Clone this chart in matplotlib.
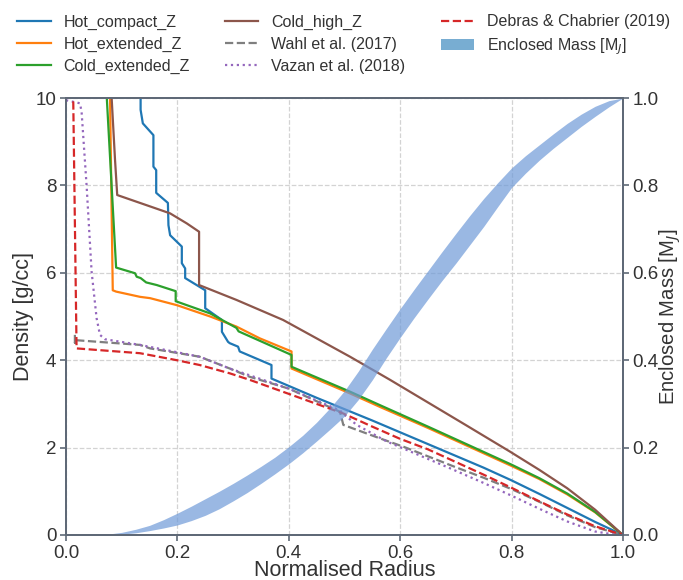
import numpy as np
import matplotlib
matplotlib.use('Agg')
import matplotlib.pyplot as plt
from matplotlib.patches import Patch

# density profiles
hot_compact_r = [0.134, 0.134, 0.138, 0.157, 0.157, 0.162, 0.162, 0.183, 0.184, 0.187, 0.208, 0.208, 0.214, 0.214,
                 0.25, 0.25, 0.28, 0.28, 0.291, 0.294, 0.309, 0.312, 0.369, 0.369, 0.45, 0.55, 0.65, 0.75, 0.8,
                 0.85, 0.9, 0.95, 1.0]
hot_compact_rho = [11.0, 9.73, 9.42, 9.15, 8.43, 8.35, 7.83, 7.6, 7.09, 6.86, 6.6, 6.22, 6.1, 5.88,
                   5.6, 5.19, 4.92, 4.65, 4.42, 4.39, 4.31, 4.2, 3.89, 3.58, 3.14, 2.62, 2.08, 1.54, 1.25,
                   0.94, 0.62, 0.3, 0.0]

hot_extended_r = [0.078, 0.084, 0.09, 0.133, 0.151, 0.199, 0.259, 0.306, 0.348, 0.405, 0.405, 0.51, 0.564, 0.65,
                  0.75, 0.8, 0.85, 0.9, 0.95, 1.0]
hot_extended_rho = [11.0, 5.6, 5.57, 5.45, 5.42, 5.26, 5.0, 4.77, 4.5, 4.2, 3.81, 3.24, 2.93, 2.45,
                    1.87, 1.58, 1.28, 0.93, 0.52, 0.0]

cold_extended_r = [0.069, 0.09, 0.124, 0.127, 0.134, 0.144, 0.163, 0.197, 0.197, 0.259, 0.306, 0.31, 0.405, 0.405,
                   0.51, 0.564, 0.65, 0.75, 0.8, 0.85, 0.9, 0.95, 1.0]
cold_extended_rho = [11.0, 6.12, 5.99, 5.91, 5.88, 5.78, 5.72, 5.58, 5.35, 5.07, 4.74, 4.66, 4.12, 3.85,
                     3.28, 2.97, 2.48, 1.9, 1.61, 1.3, 0.95, 0.53, 0.0]

cold_high_r = [0.081, 0.082, 0.088, 0.092, 0.169, 0.187, 0.217, 0.239, 0.239, 0.306, 0.39, 0.51, 0.582, 0.653,
               0.72, 0.797, 0.85, 0.9, 0.95, 1.0]
cold_high_rho = [11.0, 10.0, 8.6, 7.78, 7.44, 7.36, 7.13, 6.94, 5.72, 5.38, 4.92, 4.08, 3.55, 3.01,
                 2.5, 1.91, 1.49, 1.07, 0.58, 0.0]

wahl_r = [0.016, 0.016, 0.016, 0.133, 0.151, 0.24, 0.294, 0.33, 0.40, 0.492, 0.498, 0.564, 0.606, 0.65, 0.7,
          0.75, 0.8, 0.85, 0.9, 0.95, 1.0]
wahl_rho = [4.58, 4.40, 4.46, 4.35, 4.27, 4.08, 3.81, 3.62, 3.35, 2.82, 2.52, 2.21, 2.02, 1.8, 1.55,
            1.31, 1.05, 0.76, 0.45, 0.18, 0.0]

vazan_r = [0.0, 0.025, 0.028, 0.037, 0.046, 0.055, 0.061, 0.07, 0.133, 0.24, 0.294, 0.40, 0.492, 0.50, 0.522, 0.576,
           0.689, 0.75, 0.8, 0.85, 0.9, 0.95, 0.99]
vazan_rho = [9.95, 9.88, 9.69, 8.0, 6.03, 4.96, 4.58, 4.48, 4.35, 4.08, 3.81, 3.35, 2.85, 2.75, 2.52, 2.14,
             1.53, 1.19, 0.9, 0.6, 0.31, 0.08, 0.0]

debras_r = [0.013, 0.013, 0.019, 0.133, 0.199, 0.24, 0.294, 0.33, 0.40, 0.45, 0.498, 0.55, 0.6, 0.65, 0.7,
            0.75, 0.8, 0.85, 0.9, 0.95, 1.0]
debras_rho = [11.0, 10.0, 4.27, 4.16, 4.0, 3.89, 3.70, 3.55, 3.23, 3.0, 2.78, 2.48, 2.2, 1.96, 1.67,
              1.38, 1.08, 0.77, 0.47, 0.2, 0.0]

# enclosed mass band (lower / upper edge) on the right axis
mass_r = [0.05, 0.075, 0.1, 0.125, 0.15, 0.175, 0.2, 0.225, 0.25, 0.275, 0.3, 0.325, 0.35, 0.375, 0.4,
          0.425, 0.45, 0.475, 0.5, 0.525, 0.55, 0.575, 0.6, 0.625, 0.65, 0.675, 0.7, 0.725, 0.75, 0.775,
          0.8, 0.825, 0.85, 0.875, 0.9, 0.925, 0.95, 0.975, 1.0]
mass_upper = [0.0, 0.002, 0.006, 0.013, 0.022, 0.035, 0.05, 0.066, 0.083, 0.1, 0.118, 0.137, 0.157, 0.178, 0.202,
              0.228, 0.258, 0.292, 0.33, 0.375, 0.425, 0.472, 0.518, 0.562, 0.605, 0.648, 0.69, 0.731, 0.77, 0.806,
              0.84, 0.868, 0.893, 0.918, 0.942, 0.963, 0.981, 0.994, 1.0]
mass_lower = [0.0, 0.001, 0.002, 0.005, 0.01, 0.016, 0.023, 0.033, 0.045, 0.06, 0.078, 0.097, 0.118, 0.14, 0.163,
              0.188, 0.215, 0.243, 0.272, 0.31, 0.355, 0.405, 0.452, 0.497, 0.54, 0.582, 0.622, 0.664, 0.706, 0.751,
              0.795, 0.828, 0.858, 0.885, 0.91, 0.935, 0.958, 0.98, 1.0]


def plot_density():
    plt.rcParams['font.family'] = ['Liberation Sans', 'DejaVu Sans']
    text_col = '#333333'
    spine_col = '#5f6977'

    fig = plt.figure(figsize=(6.83, 5.8), dpi=100)
    ax = fig.add_axes([0.0966, 0.0776, 0.8154, 0.7534])
    ax2 = ax.twinx()

    l1, = ax.plot(hot_compact_r, hot_compact_rho, color='tab:blue', lw=1.6, label='Hot_compact_Z')
    l2, = ax.plot(hot_extended_r, hot_extended_rho, color='tab:orange', lw=1.6, label='Hot_extended_Z')
    l3, = ax.plot(cold_extended_r, cold_extended_rho, color='tab:green', lw=1.6, label='Cold_extended_Z')
    l4, = ax.plot(cold_high_r, cold_high_rho, color='tab:brown', lw=1.6, label='Cold_high_Z')
    l5, = ax.plot(wahl_r, wahl_rho, color='tab:gray', lw=1.6, ls='--', label='Wahl et al. (2017)')
    l6, = ax.plot(vazan_r, vazan_rho, color='tab:purple', lw=1.6, ls=':', label='Vazan et al. (2018)')
    l7, = ax.plot(debras_r, debras_rho, color='tab:red', lw=1.6, ls='--', label='Debras & Chabrier (2019)')

    ax2.fill_between(mass_r, mass_lower, mass_upper, color='#6f9ad8', alpha=0.7, lw=0)
    band = Patch(facecolor='tab:blue', alpha=0.6, label='Enclosed Mass [M$_J$]')

    ax.set_xlim(0, 1)
    ax.set_ylim(0, 10)
    ax2.set_ylim(0, 1)
    ax.set_xticks(np.arange(0, 1.01, 0.2))
    ax.set_yticks(np.arange(0, 10.1, 2))
    ax2.set_yticks(np.arange(0, 1.01, 0.2))

    ax.grid(True, ls='--', color='#d3d3d3', lw=0.9)
    ax.set_axisbelow(True)

    ax.set_xlabel('Normalised Radius', fontsize=15.5, color=text_col, labelpad=-1)
    ax.set_ylabel('Density [g/cc]', fontsize=15.5, color=text_col, labelpad=1)
    ax2.set_ylabel('Enclosed Mass [M$_J$]', fontsize=14.6, color=text_col, labelpad=-1)

    for a in (ax, ax2):
        a.tick_params(labelsize=13.5, colors=text_col, length=4, width=1.2, color=spine_col, direction='out', pad=3)
        for s in a.spines.values():
            s.set_color(spine_col)
            s.set_linewidth(1.4)
    ax.xaxis.set_major_formatter(matplotlib.ticker.FormatStrFormatter('%.1f'))
    ax2.yaxis.set_major_formatter(matplotlib.ticker.FormatStrFormatter('%.1f'))

    handles = [l1, l2, l3, l4, l5, l6, l7, band]
    leg = fig.legend(handles=handles, loc='upper left', bbox_to_anchor=(0.004, 1.0), ncol=3, frameon=False,
                     fontsize=11.5, columnspacing=2.2, handlelength=2.1, handletextpad=0.8, labelspacing=0.45)
    for t in leg.get_texts():
        t.set_color(text_col)

    fig.savefig('out.png', dpi=100)


if __name__ == '__main__':
    plot_density()
